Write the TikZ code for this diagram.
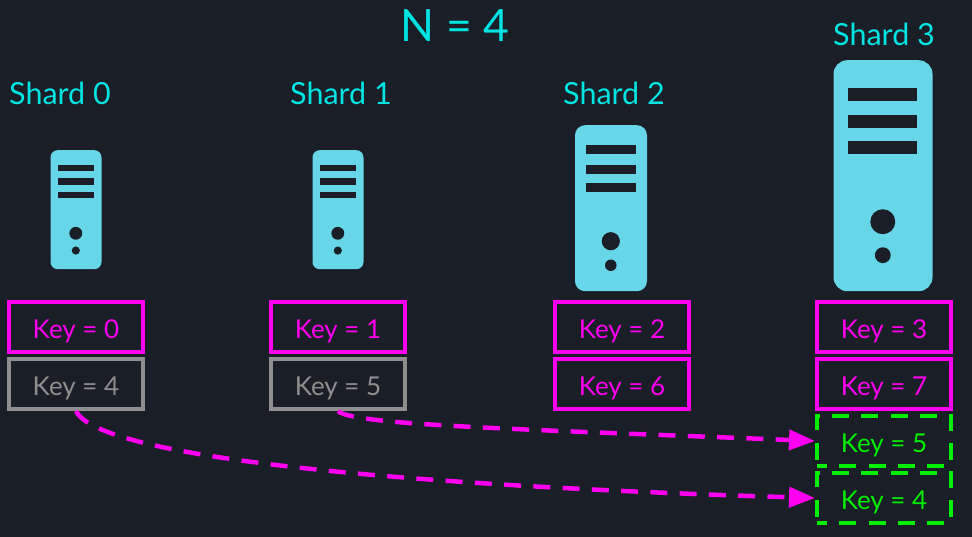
\documentclass[tikz,border=0pt]{standalone}
\usepackage{fontspec}
\setmainfont{Lato}
\usepackage{xcolor}
\usetikzlibrary{arrows.meta,positioning}
\definecolor{night}{HTML}{1A1E26}
\definecolor{aqua}{HTML}{00E3E3}
\definecolor{rack}{HTML}{66D6E8}
\definecolor{pink}{HTML}{FF00F0}
\definecolor{stale}{HTML}{8E8E8E}
\definecolor{moved}{HTML}{00EE00}
\tikzset{
  title/.style={text=aqua,font=\fontsize{44.5}{50}\selectfont,inner sep=0pt},
  shard/.style={text=aqua,font=\fontsize{30.5}{34}\selectfont,inner sep=0pt},
  server/.style={fill=rack,anchor=north,inner sep=0pt},
  keybox/.style={draw=#1,text=#1,line width=4pt,minimum width=134pt,minimum height=50pt,inner sep=0pt,text height=22pt,text depth=0pt,font=\fontsize{26}{30}\selectfont},
  newbox/.style={keybox=moved,dash pattern=on 17pt off 12.3pt,dash phase=6.9pt},
  flow/.style={-{Triangle[length=26pt,width=20pt]},line width=4.5pt,draw=pink,dash pattern=on 17pt off 12.3pt}
}
\begin{document}
\begin{tikzpicture}[x=1pt,y=-1pt,node distance=3pt]
  \path[fill=night,use as bounding box] (0,0) rectangle (972,537);
  \node[title] (total) at (455,26) {N = 4};
  \node[shard] (name0) at (60,93) {Shard 0};
  \node[shard] (name1) at (341,93) {Shard 1};
  \node[shard] (name2) at (614,93) {Shard 2};
  \node[shard] (name3) at (884,34) {Shard 3};
  % server towers, scaled to their capacity
  \foreach \i/\cx/\top/\w/\h in {0/76/150/51/119,1/338/150/51/119,2/611/125/72/166,3/883/60/99/231}{
    \node[server,minimum width=\w pt,minimum height=\h pt,rounded corners=0.14*\w pt] (srv\i) at (\cx,\top) {};
    \begin{scope}[shift={(srv\i.north west)},x=\w pt,y=-\h pt]
      \foreach \b in {0.122,0.238,0.351}
        \fill[night] (0.15,\b) rectangle (0.85,\b+0.055);
      \fill[night] (0.5,0.70) circle[radius=0.126*\w*1pt];
      \fill[night] (0.5,0.845) circle[radius=0.08*\w*1pt];
    \end{scope}
  }
  % keys under each shard
  \node[keybox=pink] (key0) at (76,327) {Key = 0};
  \node[keybox=stale,below=of key0] (key4) {Key = 4};
  \node[keybox=pink] (key1) at (338,327) {Key = 1};
  \node[keybox=stale,below=of key1] (key5) {Key = 5};
  \node[keybox=pink] (key2) at (622,327) {Key = 2};
  \node[keybox=pink,below=of key2] (key6) {Key = 6};
  \node[keybox=pink] (key3) at (884,327) {Key = 3};
  \node[keybox=pink,below=of key3] (key7) {Key = 7};
  \node[newbox,below=of key7] (new5) {Key = 5};
  \node[newbox,below=of new5] (new4) {Key = 4};
  \draw[flow] (key5.south) .. controls +(14,14) and +(-300,-12) .. (new5.west);
  \draw[flow] (key4.south) .. controls +(24,48) and +(-400,-12) .. (new4.west);
\end{tikzpicture}
\end{document}
